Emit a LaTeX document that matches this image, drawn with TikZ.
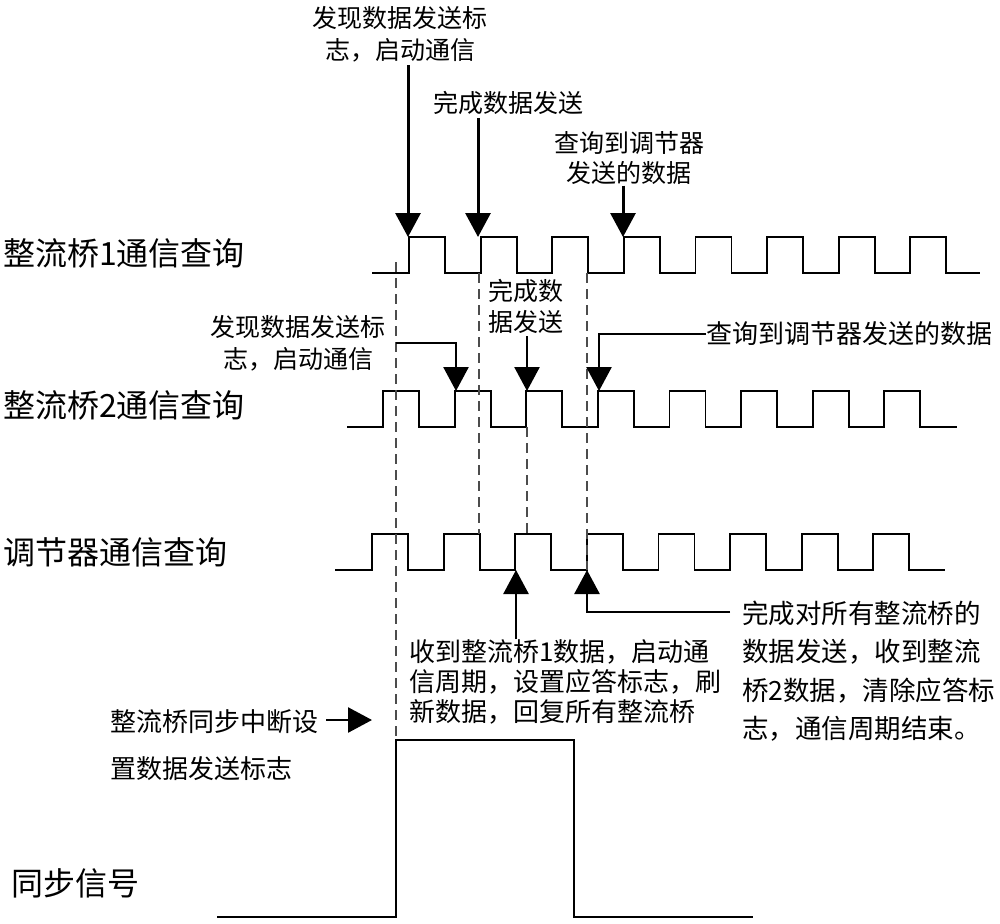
\documentclass[tikz,border=0pt]{standalone}
\usepackage{fontspec}
\newfontfamily\cjk{Noto Sans CJK SC}
\usetikzlibrary{arrows.meta}
\begin{document}
\begin{tikzpicture}[x=1pt,y=-1pt,
  lbl/.style={font=\cjk\fontsize{32}{32}\selectfont, anchor=west, inner sep=0pt},
  ann/.style={font=\cjk\fontsize{25}{32}\selectfont, inner sep=0pt, align=center},
  annl/.style={font=\cjk\fontsize{26}{30}\selectfont, inner sep=0pt, align=left, anchor=west},
  wave/.style={line width=1.8pt, line join=miter},
  guide/.style={line width=1.6pt, dash pattern=on 10pt off 6pt, black!70},
  pointer/.style={line width=3pt, -{Triangle[width=25pt,length=24pt]}},
]
\useasboundingbox (0,0) rectangle (1000,923);
\def\P{71.6}

% left labels
\node[lbl] (l1) at (3,253) {整流桥1通信查询};
\node[lbl] (l2) at (3,405) {整流桥2通信查询};
\node[lbl] (l3) at (3,552) {调节器通信查询};
\node[lbl] (l4) at (11,883) {同步信号};

% waveforms
\draw[wave] (372,273) \foreach \k in {0,...,7}{ -- ({409+\k*\P},273) -- ({409+\k*\P},237) -- ({445+\k*\P},237) -- ({445+\k*\P},273)} -- (980,273);
\draw[wave] (347,427) \foreach \k in {0,...,7}{ -- ({383+\k*\P},427) -- ({383+\k*\P},391) -- ({419+\k*\P},391) -- ({419+\k*\P},427)} -- (957,427);
\draw[wave] (335,570) \foreach \k in {0,...,7}{ -- ({372+\k*\P},570) -- ({372+\k*\P},534) -- ({408+\k*\P},534) -- ({408+\k*\P},570)} -- (945,570);
\draw[wave] (217,917) -- (396,917) -- (396,740) -- (574,740) -- (574,917) -- (753,917);

% dashed guides
\draw[guide] (396,262) -- (396,740);
\draw[guide] (479,273) -- (479,534);
\draw[guide] (527,427) -- (527,534);
\draw[guide] (587,273) -- (587,570);

% annotations
\node[ann] (a1) at (400,34) {发现数据发送标\\志，启动通信};
\node[ann] (a2) at (508,103) {完成数据发送};
\node[ann, font=\cjk\fontsize{25}{30}\selectfont] (a3) at (629,158) {查询到调节器\\发送的数据};
\node[ann] (a4) at (298,343) {发现数据发送标\\志，启动通信};
\node[ann, font=\cjk\fontsize{25}{31}\selectfont] (a5) at (526,306) {完成数\\据发送};
\node[annl] (a6) at (706,334) {查询到调节器发送的数据};
\node[annl] (a7) at (409,682) {收到整流桥1数据，启动通\\信周期，设置应答标志，刷\\新数据，回复所有整流桥};
\node[annl, font=\cjk\fontsize{26.5}{38.5}\selectfont] (a8) at (742,671) {完成对所有整流桥的\\数据发送，收到整流\\桥2数据，清除应答标\\志，通信周期结束。};
\node[annl, font=\cjk\fontsize{26}{47}\selectfont] (a9) at (110,745) {整流桥同步中断设\\置数据发送标志};

% arrow targets and starts
\coordinate (t1) at (408,237);
\coordinate (t2) at (478,237);
\coordinate (t3) at (623,237);
\coordinate (e1s) at (396,343);
\coordinate (t4) at (456,391);
\coordinate (t5) at (527,391);
\coordinate (t6) at (599,391);
\coordinate (u1) at (516,570);
\coordinate (e3s) at (730,612);
\coordinate (u2) at (587,570);
\coordinate (s1) at (326,720);
\coordinate (s2) at (372,720);

\draw[pointer] ([yshift=-3pt]a1.south -| t1) -- (t1);
\draw[pointer] ([yshift=-3pt]a2.south -| t2) -- (t2);
\draw[pointer] ([yshift=-1pt]a3.south -| t3) -- (t3);
\draw[pointer, line width=2.6pt] (e1s) -| (t4);
\draw[pointer, line width=2.6pt] ([yshift=-3pt]a5.south -| t5) -- (t5);
\draw[pointer, line width=2.6pt] (a6.west) -| (t6);
\draw[pointer, line width=2.6pt] (a7.north -| u1) -- (u1);
\draw[pointer, line width=2.6pt] (e3s) -| (u2);
\draw[pointer, line width=2.6pt] (s1) -- (s2);
\end{tikzpicture}
\end{document}
